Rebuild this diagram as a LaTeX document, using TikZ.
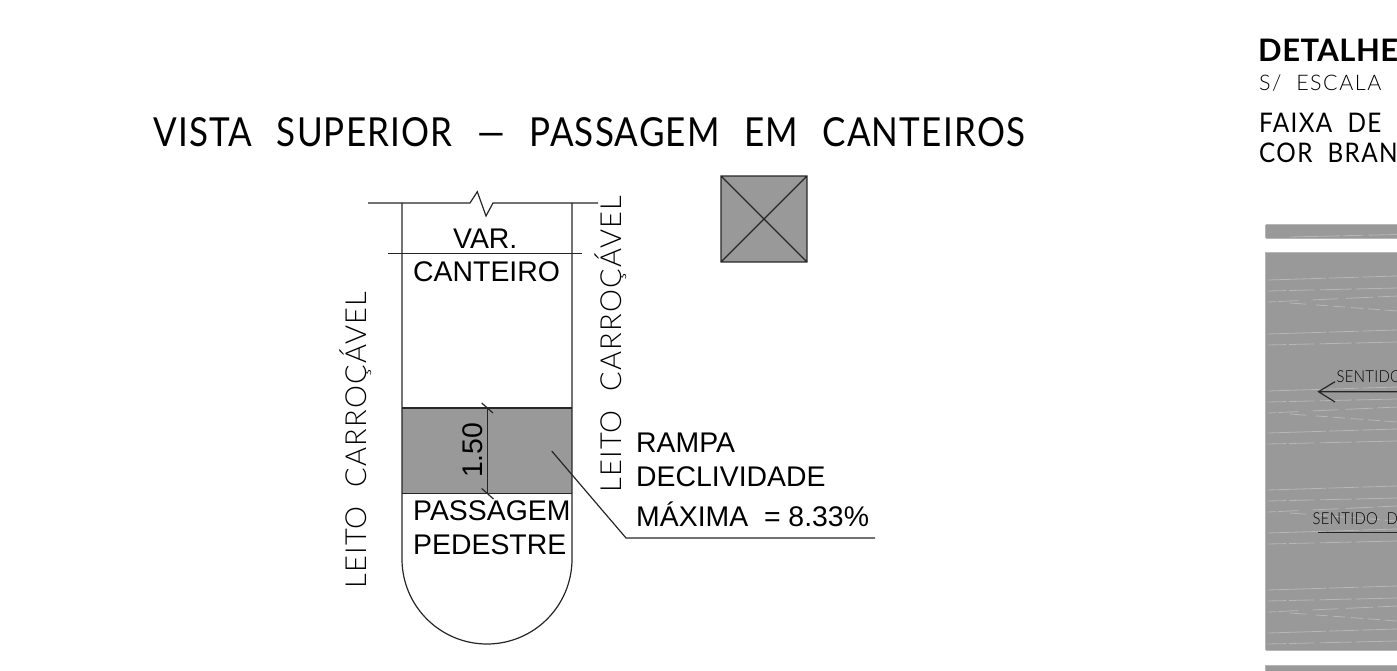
\documentclass[tikz,border=0pt]{standalone}
\usepackage{fontspec}
\setmainfont{Liberation Sans}
\newfontfamily\cad[LetterSpace=4.4,FakeStretch=1,WordSpace=2]{Lato Light}
\newfontfamily\cade[LetterSpace=7,FakeStretch=1,WordSpace=2]{Lato Light}
\newfontfamily\cads[LetterSpace=2,FakeStretch=.9,WordSpace=2]{Lato Light}
\newfontfamily\cadt[LetterSpace=3,FakeStretch=.875,WordSpace=2.4]{Lato}
\newfontfamily\cadf[LetterSpace=5,FakeStretch=.9,WordSpace=2]{Lato}
\newfontfamily\cadb[LetterSpace=1.5]{Lato}
\definecolor{padgray}{RGB}{153,153,153}
\definecolor{streak}{RGB}{182,182,182}
\tikzset{
  arial/.style={inner sep=0,anchor=base west,font=\fontsize{28.4}{30}\selectfont,text=black},
  cadtext/.style={inner sep=0,anchor=base west,text=black},
  wall/.style={draw=black!85,line width=1.2pt},
  streakline/.style={draw=streak,line width=0.8pt},
}
\newcommand{\bandtwo}[1]{%
  \draw[streakline,dash pattern=on 58pt off 3pt on 30pt off 3pt on 40pt] (1268,#1) -- (1397,#1-4);
  \draw[streakline,dash pattern=on 18pt off 3pt on 25pt off 6pt on 32pt off 4pt on 60pt] (1268,#1+11) -- (1397,#1+8);
}
\newcommand{\bandthree}[1]{%
  \bandtwo{#1}
  \draw[streakline,dash pattern=on 8pt off 2pt on 20pt off 15pt on 25pt off 8pt on 27pt off 5pt on 50pt] (1268,#1+22) -- (1397,#1+16);
  \draw[streakline,dash pattern=on 16pt off 10pt on 12pt off 5pt on 12pt off 6pt on 12pt off 5pt on 12pt off 5pt on 12pt off 6pt on 12pt] (1290,#1+23) -- (1397,#1+31);
}
\begin{document}
\begin{tikzpicture}[x=1pt,y=-1pt]
\useasboundingbox (0,0) rectangle (1397,671);
\clip (0,0) rectangle (1397,671);
% title
\node[cadtext,font=\cadt\fontsize{40}{44}\selectfont] (title) at (153,147) {VISTA SUPERIOR — PASSAGEM EM CANTEIROS};
% ramp
\fill[padgray] (402,408) rectangle (572,493.5);
\fill[padgray] (721,176) rectangle (807,262);
\draw[wall] (721,176) rectangle (807,262) (721,176) -- (807,262) (721,262) -- (807,176);
% island
\draw[wall] (368,203) -- (470,203) -- (477.3,191.7) -- (486,216) -- (493,203) -- (598,203);
\draw[wall] (402,203) -- (402,559) arc[start angle=180,end angle=0,x radius=85,y radius=85] -- (572,203);
\draw[wall] (388,253.5) -- (582,253.5);
\draw[wall] (402,408) -- (572,408) (402,493.5) -- (572,493.5);
% dimension
\draw[wall] (487.3,408) -- (487.3,493.5);
\draw[wall] (481.7,403) -- (493,413) (481.7,488.5) -- (493.5,499);
% leader
\draw[wall] (551.7,451) -- (626,538) -- (875,538);
% texts
\node[arial] (var) at (453,248) {VAR.};
\node[arial] (cant) at (413,281.7) {CANTEIRO};
\node[arial] (pass) at (413,520) {PASSAGEM};
\node[arial] (ped) at (413,554) {PEDESTRE};
\node[arial] (rampa) at (636,452) {RAMPA};
\node[arial] (decl) at (636,486.7) {DECLIVIDADE};
\node[arial] (max) at (636,526) {MÁXIMA~ = 8.33\%};
\node[arial,rotate=90] (dim) at (482.7,478) {1.50};
\node[cadtext,rotate=90,font=\cad\fontsize{29}{30}\selectfont] (leitoa) at (366,589) {LEITO CARROÇÁVEL};
\node[cadtext,rotate=90,font=\cad\fontsize{29}{30}\selectfont] (leitob) at (621.7,493) {LEITO CARROÇÁVEL};
% right panel
\fill[padgray] (1265.5,224.5) rectangle (1397,238);
\fill[padgray] (1265.5,252) rectangle (1397,650);
\fill[padgray] (1265.5,665) rectangle (1397,671);
\foreach \y in {224.5,238,252,650,665} \draw[streak,line width=0.8pt] (1265.5,\y) -- (1397,\y);
\draw[streak,line width=0.8pt] (1265.5,224.5) -- (1265.5,238) (1265.5,252) -- (1265.5,650) (1265.5,665) -- (1265.5,671);
\draw[streakline,dash pattern=on 50pt off 3pt on 20pt off 6pt on 30pt] (1290,237) -- (1397,234.5);
\bandthree{280}
\bandtwo{334}
\bandthree{391}
\bandtwo{433}
\bandthree{490}
\bandtwo{533}
\bandthree{590}
\bandtwo{633}
\draw[wall] (1335,381.7) -- (1318.5,391.7) -- (1335,402) (1318.5,391.7) -- (1397,391.7);
\draw[wall] (1318,532.7) -- (1397,532.7);
\node[cadtext,font=\cads\fontsize{16.5}{18}\selectfont] (s1) at (1336.5,382.7) {SENTIDO};
\node[cadtext,font=\cads\fontsize{16.5}{18}\selectfont] (s2) at (1312.5,524) {SENTIDO D};
\node[cadtext,font=\cadb\fontsize{31}{32}\bfseries\selectfont] (det) at (1258,62) {DETALHE};
\node[cadtext,font=\cade\fontsize{21.5}{22}\selectfont] (esc) at (1259,90.5) {S/ ESCALA};
\node[cadtext,font=\cadf\fontsize{27}{28}\selectfont] (fx) at (1259,133) {FAIXA DE};
\node[cadtext,font=\cadf\fontsize{27}{28}\selectfont] (cor) at (1259,163) {COR BRAN};
\end{tikzpicture}
\end{document}
